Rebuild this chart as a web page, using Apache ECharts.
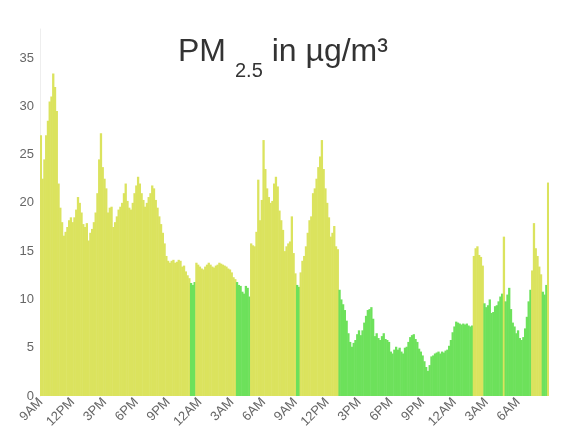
<!DOCTYPE html>
<html>
<head>
<meta charset="utf-8">
<script src="https://cdn.jsdelivr.net/npm/echarts@6/dist/echarts.min.js"></script>
<style>
html,body{margin:0;padding:0;background:#fff;}
#chart{width:584px;height:447px;}
</style>
</head>
<body>
<div id="chart"></div>
<script>
// 10-minute PM2.5 readings, 48 hours starting 9AM
var pmValues = [
  27, 22.5, 24.5, 27, 28.5, 30.5,
  31, 33.4, 32, 29.5, 22, 19.5,
  18, 16.6, 17, 17.5, 18.2, 18.5,
  18, 18.5, 19.3, 20.6, 20, 19,
  17.8, 17.5, 17.9, 16.1, 16.9, 17.3,
  18, 19, 21, 24.5, 27.2, 23.7,
  22.5, 21.5, 19, 19.5, 19.6, 17.5,
  18, 18.6, 19.3, 19.6, 20, 21,
  22, 20.2, 19.5, 19.3, 20, 21,
  21.8, 22.7, 22, 21, 20.3, 19.6,
  20, 20.6, 21, 21.8, 21.5, 20.3,
  19.5, 18.6, 17.8, 16.9, 15.8, 14.5,
  14, 13.8, 14, 14.1, 13.8, 13.9,
  14.1, 14, 13.4, 13.5, 12.9, 12.5,
  12.2, 11.7, 11.5, 11.8, 13.8, 13.6,
  13.4, 13.2, 13.1, 13.4, 13.6, 13.8,
  13.6, 13.4, 13.3, 13.5, 13.6, 13.8,
  13.7, 13.6, 13.5, 13.4, 13.2, 13.1,
  12.8, 12.3, 12.1, 11.8, 11.5, 11.4,
  10.8, 10.6, 11.4, 11.2, 10.3, 15.8,
  15.6, 15.5, 17, 22.4, 18.2, 20.3,
  26.5, 23.5, 21.5, 20.6, 20, 20.2,
  22, 22.7, 21.7, 19.2, 18.2, 17.2,
  15, 15.5, 15.8, 16, 18.6, 14.8,
  12.7, 11.5, 11.3, 12.8, 14, 14.5,
  15.5, 16.9, 18.2, 18.6, 21, 21.5,
  22.5, 23.7, 24.8, 26.5, 23.5, 21.5,
  20, 18.5, 16.5, 16.9, 17.6, 15.5,
  15.2, 11, 10, 9.5, 8.9, 7.8,
  6.5, 5.6, 5.1, 5.5, 5.8, 6.4,
  6.8, 6.3, 6.8, 7.6, 8.3, 8.9,
  9.0, 9.2, 8.0, 6.2, 6.5, 6.0,
  5.8, 6.2, 6.5, 5.9, 5.8, 5.6,
  4.6, 4.4, 4.8, 5.1, 4.8, 5.0,
  4.6, 4.4, 5.0, 5.1, 5.6, 6.1,
  6.3, 6.4, 5.9, 5.6, 4.9, 4.6,
  4.2, 3.6, 3.0, 2.6, 3.2, 4.1,
  4.2, 4.4, 4.5, 4.6, 4.4, 4.6,
  4.5, 4.7, 4.8, 5.2, 5.8, 6.6,
  7.2, 7.7, 7.6, 7.5, 7.4, 7.5,
  7.4, 7.5, 7.3, 7.2, 7.3, 14.5,
  15.3, 15.5, 14.6, 14.4, 13.5, 9.6,
  9.2, 9.4, 10, 8.6, 8.7, 9.3,
  9.4, 9.8, 10.3, 10.6, 16.5, 9.8,
  10.5, 11.2, 9.0, 7.6, 7.2, 6.5,
  6.8, 6.0, 5.8, 6.1, 7.0, 8.2,
  9.8, 11, 13, 17.9, 15.3, 14.5,
  13.4, 12.6, 10.8, 10.5, 11.5, 22.1
];
// Tick labels every 3 hours (18 readings)
var tickLabels = ['9AM','12PM','3PM','6PM','9PM','12AM','3AM','6AM',
                  '9AM','12PM','3PM','6PM','9PM','12AM','3AM','6AM'];
var readingsPerTick = 18;
var goodLimit = 12;
var yTicks = [0, 5, 10, 15, 20, 25, 30, 35];

var categories = pmValues.map(function (v, i) { return String(i); });

var chart = echarts.init(document.getElementById('chart'), null, {renderer: 'canvas'});
var font = "'Liberation Sans', Arial, Helvetica, sans-serif";
chart.setOption({
  animation: false,
  title: {
    text: '{a|PM}{b|2.5}{a| in \u00b5g/m\u00b3}',
    left: 178,
    top: 36,
    padding: 0,
    textStyle: {
      fontWeight: 'normal',
      rich: {
        a: {fontSize: 32, lineHeight: 32, verticalAlign: 'top', color: '#333', fontWeight: 'normal', fontFamily: font},
        b: {fontSize: 20, lineHeight: 45, verticalAlign: 'bottom', color: '#333', fontWeight: 'normal', fontFamily: font, padding: [0, 0, 0, 9]}
      }
    }
  },
  grid: {left: 40, right: 35, top: 29, bottom: 51, containLabel: false},
  visualMap: {
    show: false,
    type: 'piecewise',
    dimension: 1,
    seriesIndex: 0,
    pieces: [
      {lt: goodLimit, color: '#6de15b'},
      {gte: goodLimit, color: '#dbe35e'}
    ]
  },
  xAxis: {
    type: 'category',
    data: categories,
    boundaryGap: true,
    axisLine: {show: false},
    axisTick: {show: false},
    splitLine: {show: false},
    axisLabel: {
      interval: readingsPerTick - 1,
      rotate: 45,
      margin: 4,
      color: '#666',
      fontSize: 13,
      fontFamily: font,
      formatter: function (val, idx) {
        return tickLabels[Math.round(idx / readingsPerTick)] || '';
      }
    }
  },
  yAxis: {
    type: 'value',
    min: 0,
    max: 38,
    interval: 5,
    axisLine: {show: true, lineStyle: {color: '#eeeeee', width: 1}},
    axisTick: {show: false},
    splitLine: {show: false},
    axisLabel: {
      color: '#666',
      fontSize: 13,
      fontFamily: font,
      margin: 6,
      formatter: function (v) { return yTicks.indexOf(v) >= 0 ? String(v) : ''; }
    }
  },
  series: [{
    type: 'bar',
    data: pmValues,
    barWidth: 2.3,
    itemStyle: {borderWidth: 0}
  }]
});
</script>
</body>
</html>
